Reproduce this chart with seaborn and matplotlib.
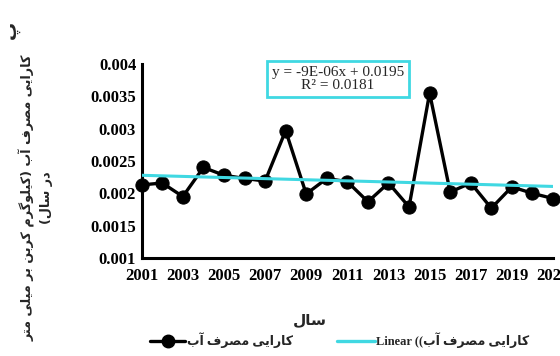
import matplotlib
matplotlib.use('Agg')
import matplotlib.pyplot as plt
import seaborn as sns
import pandas as pd
from matplotlib.lines import Line2D

# data
years = list(range(2001, 2022))
wue = [0.00213, 0.00216, 0.00195, 0.00240, 0.00228, 0.00223, 0.00219, 0.00297,
       0.00199, 0.00223, 0.00218, 0.00187, 0.00216, 0.00179, 0.00355, 0.00202,
       0.00216, 0.00177, 0.00210, 0.00200, 0.00192]
xticks = list(range(2001, 2022, 2))
yticks = [0.001, 0.0015, 0.002, 0.0025, 0.003, 0.0035, 0.004]
ytick_labels = ['0.001', '0.0015', '0.002', '0.0025', '0.003', '0.0035', '0.004']
eq_text = 'y = -9E-06x + 0.0195\nR² = 0.0181'

panel_label = 'پ'
ylabel_1 = 'کارایی مصرف آب (کیلوگرم کربن بر میلی متر'
ylabel_2 = 'در سال)'
xlabel = 'سال'
series_name = 'کارایی مصرف آب'

# minimal arabic/persian shaping: (isolated, final, initial, medial)
FORMS = {
    'ا': ('\uFE8D', '\uFE8E', None, None),
    'آ': ('\uFE81', '\uFE82', None, None),
    'د': ('\uFEA9', '\uFEAA', None, None),
    'ر': ('\uFEAD', '\uFEAE', None, None),
    'و': ('\uFEED', '\uFEEE', None, None),
    'ب': ('\uFE8F', '\uFE90', '\uFE91', '\uFE92'),
    'پ': ('\uFB56', '\uFB57', '\uFB58', '\uFB59'),
    'ت': ('\uFE95', '\uFE96', '\uFE97', '\uFE98'),
    'س': ('\uFEB1', '\uFEB2', '\uFEB3', '\uFEB4'),
    'ص': ('\uFEB9', '\uFEBA', '\uFEBB', '\uFEBC'),
    'ف': ('\uFED1', '\uFED2', '\uFED3', '\uFED4'),
    'ک': ('\uFB8E', '\uFB8F', '\uFB90', '\uFB91'),
    'گ': ('\uFB92', '\uFB93', '\uFB94', '\uFB95'),
    'ل': ('\uFEDD', '\uFEDE', '\uFEDF', '\uFEE0'),
    'م': ('\uFEE1', '\uFEE2', '\uFEE3', '\uFEE4'),
    'ن': ('\uFEE5', '\uFEE6', '\uFEE7', '\uFEE8'),
    'ی': ('\uFBFC', '\uFBFD', '\uFBFE', '\uFBFF'),
}


def shape(s):
    out = []
    for i, ch in enumerate(s):
        if ch not in FORMS:
            out.append(ch)
            continue
        f = FORMS[ch]
        prev = s[i - 1] if i > 0 else ''
        nxt = s[i + 1] if i + 1 < len(s) else ''
        jp = prev in FORMS and FORMS[prev][2] is not None
        jn = f[2] is not None and nxt in FORMS
        if jp and jn:
            out.append(f[3])
        elif jp:
            out.append(f[1])
        elif jn:
            out.append(f[2])
        else:
            out.append(f[0])
    vis = ''.join(out)[::-1]
    return vis.translate(str.maketrans('()', ')('))


sns.set_style('white')
plt.rcParams['font.family'] = ['Liberation Serif', 'DejaVu Sans']

df = pd.DataFrame({'year': years, 'wue': wue})
cyan = '#40D8E2'

fig = plt.figure(figsize=(5.6, 3.56), dpi=100)
ax = fig.add_axes([141.7 / 560, 1 - 258 / 356, (553 - 141.7) / 560, (258 - 64) / 356])

sns.lineplot(data=df, x='year', y='wue', ax=ax, color='black', lw=2.4,
             marker='o', markersize=9.5, markeredgecolor='black', clip_on=False, zorder=3)
sns.regplot(data=df, x='year', y='wue', ax=ax, scatter=False, ci=None, truncate=True,
            line_kws=dict(color=cyan, lw=2.2, zorder=4))

ax.set_xlim(2001, 2021)
ax.set_ylim(0.001, 0.004)
ax.set_xticks(xticks)
ax.set_xticklabels([str(t) for t in xticks])
ax.set_yticks(yticks)
ax.set_yticklabels(ytick_labels)
ax.set_xlabel('')
ax.set_ylabel('')
for lab in ax.get_xticklabels() + ax.get_yticklabels():
    lab.set_fontweight('bold')
    lab.set_fontsize(12)
    lab.set_family('Liberation Serif')
ax.tick_params(direction='in', length=4, width=2, colors='black', pad=4)
ax.tick_params(axis='x', pad=7)
sns.despine(ax=ax)
for sp in ['left', 'bottom']:
    ax.spines[sp].set_linewidth(2.2)
    ax.spines[sp].set_color('black')

ax.text(0.477, 0.923, eq_text, transform=ax.transAxes, ha='center', va='center',
        fontsize=11, family='Liberation Serif', linespacing=1.0,
        bbox=dict(boxstyle='square,pad=0.3', fc='white', ec=cyan, lw=2))

fig.text(11 / 560, 1 - 30 / 356, shape(panel_label), rotation=90, ha='center', va='center',
         fontsize=13, fontweight='bold', family='DejaVu Sans')
fig.text(36 / 560, 1 - 198 / 356, shape(ylabel_1) + '\n' + shape(ylabel_2), rotation=90,
         ha='center', va='center', multialignment='center', fontsize=9.2,
         fontweight='bold', family='DejaVu Sans', linespacing=1.4)
fig.text(310 / 560, 1 - 320 / 356, shape(xlabel), ha='center', va='center',
         fontsize=11, fontweight='bold', family='DejaVu Sans')

prop = dict(family=['Liberation Serif', 'DejaVu Sans'], weight='bold', size=9)
h1 = Line2D([], [], color='black', lw=2.4, marker='o', markersize=9)
h2 = Line2D([], [], color=cyan, lw=2.4)
leg1 = ax.legend([h1], [shape(series_name)], loc='center left',
                 bbox_to_anchor=(150 / 560, 1 - 340 / 356), bbox_transform=fig.transFigure,
                 frameon=False, prop=prop, handlelength=2.8, handletextpad=0.15,
                 borderpad=0, borderaxespad=0)
ax.add_artist(leg1)
ax.legend([h2], ['Linear ((' + shape(series_name)], loc='center left',
          bbox_to_anchor=(337 / 560, 1 - 340 / 356), bbox_transform=fig.transFigure,
          frameon=False, prop=prop, handlelength=3.0, handletextpad=0.15,
          borderpad=0, borderaxespad=0)

fig.savefig('out.png', dpi=100)
